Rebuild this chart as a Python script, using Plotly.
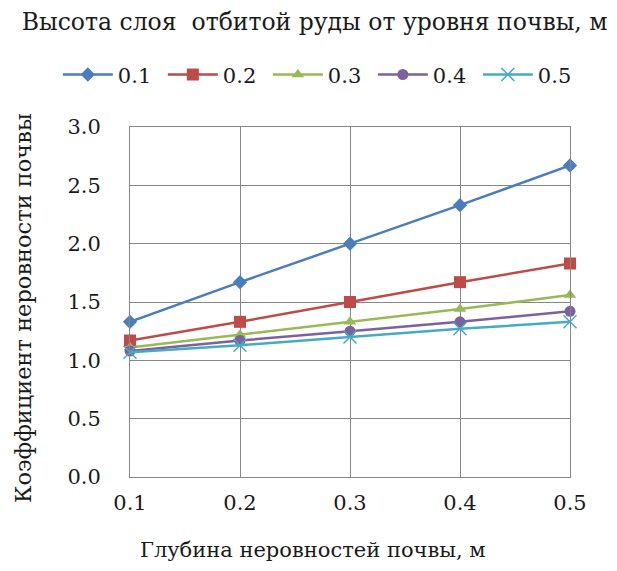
import plotly.graph_objects as go

# Depth of soil unevenness, m
depth = [0.1, 0.2, 0.3, 0.4, 0.5]

# Soil unevenness coefficient for each ore layer height
k_01 = [1.33, 1.67, 2.00, 2.33, 2.67]
k_02 = [1.17, 1.33, 1.50, 1.67, 1.83]
k_03 = [1.11, 1.22, 1.33, 1.44, 1.56]
k_04 = [1.08, 1.17, 1.25, 1.33, 1.42]
k_05 = [1.07, 1.13, 1.20, 1.27, 1.33]

series_names = ["0.1", "0.2", "0.3", "0.4", "0.5"]
series_values = [k_01, k_02, k_03, k_04, k_05]
colors = ["#4A7EBB", "#BE4B48", "#98B954", "#7D60A0", "#46AAC5"]
symbols = ["diamond", "square", "triangle-up", "circle", "x-thin"]
sizes = [11, 12, 11, 11, 13]

y_ticks = [0.0, 0.5, 1.0, 1.5, 2.0, 2.5, 3.0]

FONT = "DejaVu Serif"
TXT = "#1a1a1a"

fig = go.Figure()
for name, vals, col, sym, sz in zip(series_names, series_values, colors, symbols, sizes):
    fig.add_trace(go.Scatter(
        x=depth, y=vals, name=name, mode="lines+markers",
        line=dict(color=col, width=2.5),
        marker=dict(symbol=sym, size=sz, color=col,
                    line=dict(color=col, width=1.5 if sym == "x-thin" else 0)),
        cliponaxis=False,
    ))

fig.update_layout(
    width=617, height=571,
    margin=dict(l=130, r=47, t=127, b=94, autoexpand=False),
    paper_bgcolor="white", plot_bgcolor="white",
    font=dict(family=FONT, size=21, color=TXT),
    title=dict(text="Высота слоя  отбитой руды от уровня почвы, м",
               x=0.51, xanchor="center", y=0.962, yanchor="middle",
               font=dict(family=FONT, size=23.5, color=TXT)),
    legend=dict(orientation="h", x=-0.164, xanchor="left",
                y=1.149, yanchor="middle",
                font=dict(family=FONT, size=21, color=TXT),
                entrywidth=40, entrywidthmode="pixels",
                itemwidth=50, tracegroupgap=0),
    showlegend=True,
    annotations=[
        dict(text="Глубина неровностей почвы, м", xref="paper", yref="paper",
             x=0.416, xanchor="center", y=-0.209, yanchor="middle",
             showarrow=False, font=dict(family=FONT, size=21, color=TXT)),
        dict(text="Коэффициент неровности почвы", xref="paper", yref="paper",
             x=-0.243, xanchor="center", y=0.483, yanchor="middle",
             textangle=-90, showarrow=False,
             font=dict(family=FONT, size=22.5, color=TXT)),
    ],
)
fig.update_xaxes(
    range=[0.1, 0.5], tickvals=depth, ticktext=[f"{v:.1f}" for v in depth],
    showgrid=True, gridcolor="#878787", gridwidth=1,
    showline=True, linecolor="#878787", linewidth=1, mirror=True,
    ticks="", ticklen=0, ticklabelstandoff=7,
    tickfont=dict(family=FONT, size=21, color=TXT),
)
fig.update_yaxes(
    range=[0, 3.0], tickvals=y_ticks, ticktext=[f"{v:.1f}" for v in y_ticks],
    showgrid=True, gridcolor="#878787", gridwidth=1,
    showline=True, linecolor="#878787", linewidth=1, mirror=True,
    ticks="", zeroline=False, ticklabelstandoff=24,
    tickfont=dict(family=FONT, size=21, color=TXT),
)

fig.write_html("out.html")
